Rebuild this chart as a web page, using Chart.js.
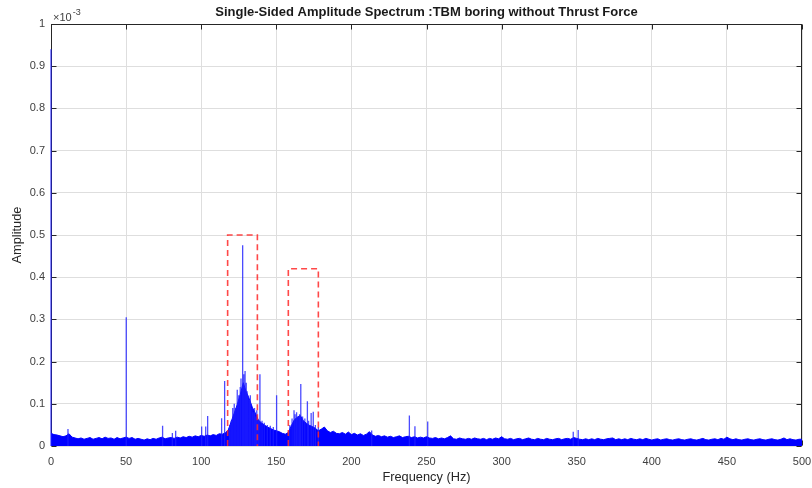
<!DOCTYPE html>
<html>
<head>
<meta charset="utf-8">
<script src="https://cdn.jsdelivr.net/npm/chart.js@4.4.0/dist/chart.umd.min.js"></script>
<style>
  html, body { margin: 0; padding: 0; background: #fff; }
  #wrap { width: 812px; height: 488px; }
</style>
</head>
<body>
<div id="wrap"><canvas id="spectrum" width="812" height="488"></canvas></div>
<script>
// amplitudes are in units of 1e-3 (the axis shows "x10^-3")

const titleText = 'Single-Sided Amplitude Spectrum :TBM boring without Thrust Force';

// dense noise floor, read every 2 Hz from 0 to 500 Hz
const floorStep = 2;
const floorAmp = [
  0.030, 0.027, 0.026, 0.024, 0.022, 0.024, 0.029, 0.021, 0.019, 0.017, // 0-18
  0.019, 0.016, 0.018, 0.020, 0.016, 0.018, 0.020, 0.017, 0.021, 0.018, // 20-38
  0.019, 0.016, 0.020, 0.017, 0.019, 0.021, 0.018, 0.020, 0.016, 0.018, // 40-58
  0.016, 0.014, 0.017, 0.015, 0.018, 0.016, 0.019, 0.021, 0.017, 0.019, // 60-78
  0.020, 0.018, 0.021, 0.019, 0.022, 0.020, 0.023, 0.021, 0.024, 0.022, // 80-98
  0.025, 0.023, 0.026, 0.024, 0.027, 0.025, 0.029, 0.028, 0.031, 0.038, // 100-118
  0.058, 0.078, 0.098, 0.122, 0.150, 0.128, 0.112, 0.092, 0.078, 0.062, // 120-138
  0.055, 0.050, 0.045, 0.042, 0.038, 0.036, 0.034, 0.030, 0.028, 0.032, // 140-158
  0.048, 0.062, 0.068, 0.072, 0.060, 0.054, 0.049, 0.046, 0.042, 0.036, // 160-178
  0.040, 0.045, 0.036, 0.032, 0.035, 0.030, 0.029, 0.032, 0.028, 0.033, // 180-198
  0.027, 0.030, 0.026, 0.029, 0.025, 0.028, 0.034, 0.026, 0.023, 0.025, // 200-218
  0.022, 0.024, 0.021, 0.023, 0.020, 0.022, 0.024, 0.020, 0.022, 0.023, // 220-238
  0.020, 0.022, 0.019, 0.021, 0.019, 0.022, 0.019, 0.018, 0.020, 0.017, // 240-258
  0.019, 0.017, 0.020, 0.024, 0.017, 0.016, 0.019, 0.017, 0.016, 0.018, // 260-278
  0.016, 0.019, 0.017, 0.016, 0.018, 0.015, 0.018, 0.016, 0.019, 0.017, // 280-298
  0.022, 0.017, 0.016, 0.018, 0.015, 0.017, 0.018, 0.015, 0.017, 0.019, // 300-318
  0.016, 0.015, 0.018, 0.016, 0.015, 0.018, 0.016, 0.015, 0.017, 0.018, // 320-338
  0.015, 0.017, 0.018, 0.016, 0.020, 0.018, 0.016, 0.015, 0.017, 0.015, // 340-358
  0.017, 0.015, 0.018, 0.016, 0.015, 0.017, 0.018, 0.019, 0.015, 0.017, // 360-378
  0.015, 0.017, 0.015, 0.018, 0.016, 0.015, 0.017, 0.015, 0.018, 0.016, // 380-398
  0.014, 0.016, 0.017, 0.014, 0.016, 0.017, 0.015, 0.014, 0.016, 0.017, // 400-418
  0.015, 0.014, 0.016, 0.017, 0.015, 0.014, 0.016, 0.018, 0.015, 0.014, // 420-438
  0.016, 0.017, 0.015, 0.018, 0.016, 0.021, 0.017, 0.015, 0.017, 0.015, // 440-458
  0.014, 0.016, 0.017, 0.015, 0.014, 0.016, 0.017, 0.015, 0.014, 0.016, // 460-478
  0.017, 0.015, 0.014, 0.016, 0.019, 0.015, 0.017, 0.015, 0.014, 0.016, // 480-498
  0.016                                                                  // 500
];

// narrow spectral lines sticking out of the floor
const spikeFreq = [0, 11.3, 50.1, 74.3, 80.8, 83, 100.3, 103, 104.3, 113.6, 115.6,
  119, 120, 121, 122, 123, 124, 125, 126, 126.5, 127.6, 128.3, 129.2, 130, 130.6, 131,
  132, 132.7, 133.8, 134.5, 135.5, 136.2, 137, 138, 139.1, 140.5, 142, 144, 146, 148, 150.2,
  159, 160.5, 161.8, 162.5, 163.5, 164.5, 165.5, 166.3, 167.5, 169, 170.7, 171.5, 173.2, 174.6, 176, 178,
  213.5, 238.6, 242.3, 250.8, 347.7, 351];
const spikeAmp = [0.94, 0.040, 0.305, 0.048, 0.031, 0.036, 0.046, 0.046, 0.071, 0.066, 0.154,
  0.050, 0.060, 0.090, 0.100, 0.090, 0.133, 0.120, 0.140, 0.160, 0.476, 0.170, 0.178, 0.150, 0.130, 0.120,
  0.110, 0.120, 0.090, 0.080, 0.090, 0.070, 0.085, 0.060, 0.170, 0.060, 0.055, 0.050, 0.048, 0.045, 0.120,
  0.050, 0.065, 0.085, 0.075, 0.080, 0.070, 0.075, 0.147, 0.070, 0.065, 0.106, 0.060, 0.078, 0.081, 0.050, 0.045,
  0.037, 0.072, 0.047, 0.058, 0.034, 0.038];

// red dashed boxes marking the two bands
const boxLeft = [117.6, 158];
const boxRight = [137.4, 178];
const boxTop = [0.50, 0.42];

const xTicks = [0, 50, 100, 150, 200, 250, 300, 350, 400, 450, 500];
const yTicks = [0, 0.1, 0.2, 0.3, 0.4, 0.5, 0.6, 0.7, 0.8, 0.9, 1];

const FONT = "'Liberation Sans', Arial, Helvetica, sans-serif";

// --- datasets ---

const floorPoints = floorAmp.map((a, i) => ({ x: i * floorStep, y: a }));

const spikePoints = [];
spikeFreq.forEach((f, i) => {
    spikePoints.push({ x: f, y: 0 }, { x: f, y: spikeAmp[i] }, { x: f, y: null });
});

const boxSets = boxLeft.map((l, i) => ({
    data: [{ x: l, y: 0 }, { x: l, y: boxTop[i] }, { x: boxRight[i], y: boxTop[i] }, { x: boxRight[i], y: 0 }],
    borderColor: 'rgba(255, 40, 40, 0.85)',
    borderWidth: 1.6,
    borderDash: [6, 4],
    pointRadius: 0,
    fill: false,
    tension: 0
}));

// MATLAB-like box, inward ticks, title and the x10^-3 multiplier
const matlabAxes = {
    id: 'matlabAxes',
    beforeDatasetsDraw(chart) {
        const { ctx, chartArea: a, scales: { x, y } } = chart;
        const L = Math.round(a.left) + 0.5, R = Math.round(a.right) - 0.5;
        const T = Math.round(a.top) + 0.5, B = Math.round(a.bottom) - 0.5;
        ctx.save();
        ctx.strokeStyle = '#262626';
        ctx.lineWidth = 1;
        ctx.strokeRect(L, T, R - L, B - T);
        ctx.beginPath();
        xTicks.forEach(v => {
            const px = Math.round(x.getPixelForValue(v)) + 0.5;
            ctx.moveTo(px, B); ctx.lineTo(px, B - 5);
            ctx.moveTo(px, T); ctx.lineTo(px, T + 5);
        });
        yTicks.forEach(v => {
            const py = Math.round(y.getPixelForValue(v)) + 0.5;
            ctx.moveTo(L, py); ctx.lineTo(L + 5, py);
            ctx.moveTo(R, py); ctx.lineTo(R - 5, py);
        });
        ctx.stroke();

        ctx.fillStyle = '#404040';
        ctx.textBaseline = 'alphabetic';
        ctx.textAlign = 'left';
        ctx.font = '11px ' + FONT;
        ctx.fillText('\u00d710', a.left + 2, a.top - 3);
        const w = ctx.measureText('\u00d710').width;
        ctx.font = '9px ' + FONT;
        ctx.fillText('-3', a.left + 2 + w + 1, a.top - 9);

        ctx.fillStyle = '#1a1a1a';
        ctx.textAlign = 'center';
        ctx.textBaseline = 'middle';
        ctx.font = 'bold 13px ' + FONT;
        ctx.fillText(titleText, (a.left + a.right) / 2, 12);
        ctx.restore();
    }
};

new Chart(document.getElementById('spectrum'), {
    type: 'line',
    data: {
        datasets: [
            ...boxSets,
            {
                data: spikePoints,
                borderColor: 'rgba(30, 30, 255, 0.8)',
                borderWidth: 1.3,
                pointRadius: 0,
                spanGaps: false,
                fill: false,
                clip: false
            },
            {
                data: floorPoints,
                borderColor: '#0000ff',
                backgroundColor: '#0000ff',
                borderWidth: 1,
                pointRadius: 0,
                fill: 'origin',
                tension: 0
            }
        ]
    },
    plugins: [matlabAxes],
    options: {
        responsive: false,
        animation: false,
        events: [],
        layout: { padding: { left: 0, right: 10, top: 24, bottom: 0 } },
        plugins: {
            legend: { display: false },
            tooltip: { enabled: false },
            title: { display: false }
        },
        scales: {
            x: {
                type: 'linear',
                min: 0,
                max: 500,
                afterBuildTicks: s => { s.ticks = xTicks.map(v => ({ value: v })); },
                afterFit: s => { s.height = 42; s.paddingLeft = 0; s.paddingRight = 0; },
                grid: { color: '#dedede', drawTicks: false },
                border: { display: false },
                ticks: { color: '#404040', font: { family: FONT, size: 11 }, padding: 9, maxRotation: 0 },
                title: {
                    display: true,
                    text: 'Frequency (Hz)',
                    color: '#262626',
                    font: { family: FONT, size: 12.8 },
                    padding: { top: 0, bottom: 3 }
                }
            },
            y: {
                min: 0,
                max: 1,
                afterBuildTicks: s => { s.ticks = yTicks.map(v => ({ value: v })); },
                afterFit: s => { s.width = 51; },
                grid: { color: '#dedede', drawTicks: false },
                border: { display: false },
                ticks: { color: '#404040', font: { family: FONT, size: 11 }, padding: 6,
                    callback: v => String(+v.toFixed(1)) },
                title: {
                    display: true,
                    text: 'Amplitude',
                    color: '#262626',
                    font: { family: FONT, size: 12.8 },
                    padding: { top: 10, bottom: 0 }
                }
            }
        }
    }
});
</script>
</body>
</html>
